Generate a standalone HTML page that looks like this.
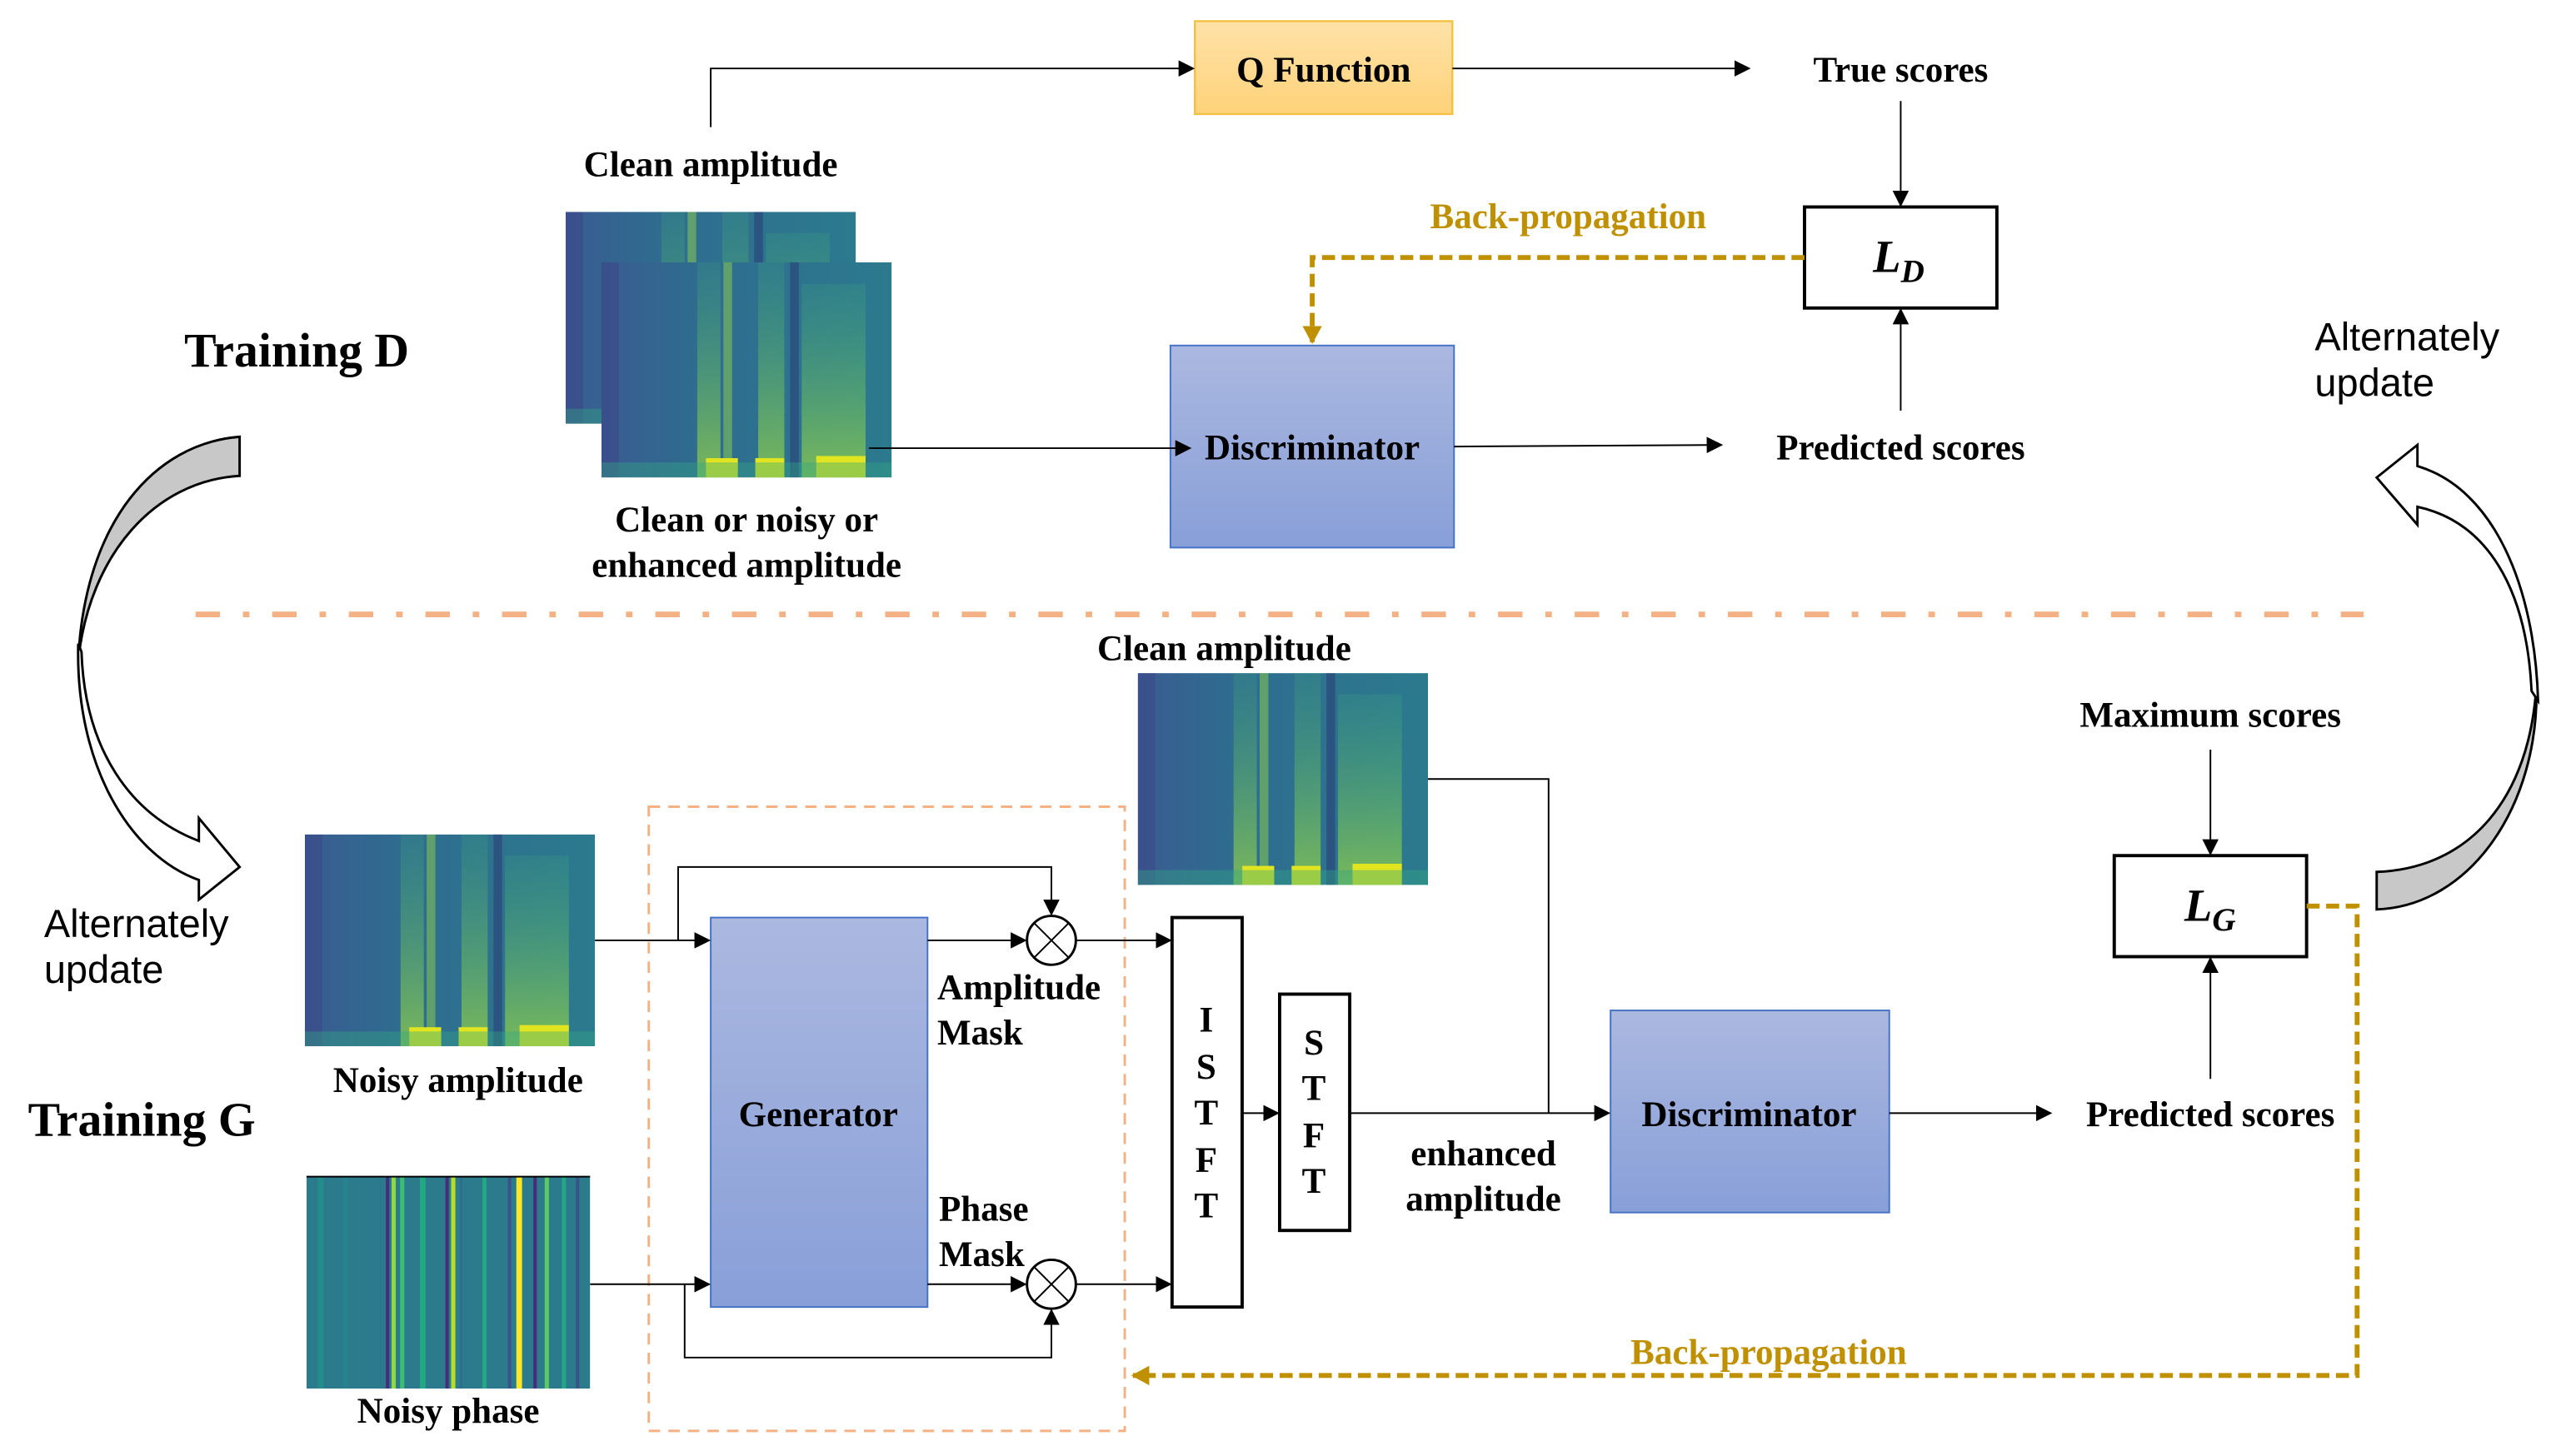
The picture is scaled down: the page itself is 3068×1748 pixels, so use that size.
<!DOCTYPE html>
<html><head><meta charset="utf-8"><style>
html,body{margin:0;padding:0;background:#fff;}
svg{display:block;}
text{font-family:"Liberation Serif",serif;font-weight:bold;fill:#000;}
.s{font-family:"Liberation Sans",sans-serif;font-weight:normal;}
</style></head><body>
<svg width="3068" height="1748" viewBox="0 0 1568 893.4" preserveAspectRatio="none" xmlns="http://www.w3.org/2000/svg">
<defs>
<marker id="a" markerWidth="10" markerHeight="10" refX="9" refY="5" orient="auto" markerUnits="userSpaceOnUse"><path d="M0,0 L10,5 L0,10 z" fill="#000"/></marker>
<marker id="g" markerWidth="12" markerHeight="12" refX="10" refY="6" orient="auto" markerUnits="userSpaceOnUse"><path d="M0,0 L11,6 L0,12 z" fill="#bf9000"/></marker>
<linearGradient id="bl" x1="0" y1="0" x2="0" y2="1"><stop offset="0" stop-color="#abb8e0"/><stop offset="1" stop-color="#889fd8"/></linearGradient>
<linearGradient id="qf" x1="0" y1="0" x2="0" y2="1"><stop offset="0" stop-color="#ffe2a8"/><stop offset="1" stop-color="#ffd27a"/></linearGradient>
<linearGradient id="sp" x1="0" y1="0" x2="1" y2="0"><stop offset="0" stop-color="#3a5c92"/><stop offset="0.3" stop-color="#2f6b8f"/><stop offset="1" stop-color="#2c7a8e"/></linearGradient>
<linearGradient id="vg" x1="0" y1="0" x2="0" y2="1"><stop offset="0" stop-color="#3fae7a" stop-opacity="0.2"/><stop offset="1" stop-color="#9bd843" stop-opacity="0.7"/></linearGradient>
<symbol id="spec" viewBox="0 0 100 100" preserveAspectRatio="none">
<rect width="100" height="100" fill="url(#sp)"/>
<rect x="0" y="0" width="6" height="100" fill="#3b3f85" opacity="0.4"/>
<rect x="33" y="0" width="8" height="100" fill="url(#vg)"/>
<rect x="42" y="0" width="3" height="100" fill="#8fd24a" opacity="0.5"/>
<rect x="54" y="0" width="9" height="100" fill="url(#vg)"/>
<rect x="65" y="0" width="3" height="100" fill="#2a3f78" opacity="0.6"/>
<rect x="69" y="10" width="22" height="90" fill="url(#vg)"/>
<rect x="36" y="91" width="11" height="9" fill="#e0e520"/>
<rect x="53" y="91" width="10" height="9" fill="#e0e520"/>
<rect x="74" y="90" width="17" height="10" fill="#e0e520"/>
<rect x="0" y="93" width="100" height="7" fill="#33a882" opacity="0.4"/>
</symbol>
<symbol id="phase" viewBox="0 0 100 100" preserveAspectRatio="none">
<rect width="100" height="100" fill="#2b7b8c"/>
<rect x="4" width="2" height="100" fill="#1f9a8a" opacity=".6"/>
<rect x="13" width="1.5" height="100" fill="#25858e"/>
<rect x="28" width="1.2" height="100" fill="#472d7b"/>
<rect x="30" width="1.5" height="100" fill="#8fd744"/>
<rect x="33" width="1.5" height="100" fill="#3dbc74"/>
<rect x="40" width="2" height="100" fill="#22a884"/>
<rect x="49" width="1.2" height="100" fill="#472d7b"/>
<rect x="51" width="1.5" height="100" fill="#b5de2b"/>
<rect x="54" width="1" height="100" fill="#2d6f8e"/>
<rect x="62" width="1.5" height="100" fill="#22a884"/>
<rect x="71" width="1.2" height="100" fill="#3b528b"/>
<rect x="74" width="2" height="100" fill="#fde725"/>
<rect x="80" width="1.2" height="100" fill="#472d7b"/>
<rect x="84" width="1.5" height="100" fill="#5ec962"/>
<rect x="90" width="1.5" height="100" fill="#22a884"/>
<rect x="95" width="1.2" height="100" fill="#3b528b"/>
</symbol>
</defs>

<!-- ===== Training D ===== -->
<rect x="733" y="13" width="158" height="57" fill="url(#qf)" stroke="#f4c040" stroke-width="1.2"/>
<text x="812" y="50" font-size="22" text-anchor="middle">Q Function</text>
<polyline points="436,78 436,42 732,42" fill="none" stroke="#000" stroke-width="1" marker-end="url(#a)"/>
<line x1="891" y1="42" x2="1073" y2="42" stroke="#000" stroke-width="1" marker-end="url(#a)"/>
<text x="1166" y="50" font-size="22" text-anchor="middle">True scores</text>
<line x1="1166" y1="62" x2="1166" y2="126" stroke="#000" stroke-width="1" marker-end="url(#a)"/>
<rect x="1107" y="127" width="118" height="62" fill="#fff" stroke="#000" stroke-width="2"/>
<text x="1149" y="167" font-size="28" font-style="italic">L<tspan font-size="20" dy="6">D</tspan></text>
<line x1="1166" y1="252" x2="1166" y2="190" stroke="#000" stroke-width="1" marker-end="url(#a)"/>
<text x="1166" y="282" font-size="22" text-anchor="middle">Predicted scores</text>
<text x="962" y="140" font-size="22" text-anchor="middle" style="fill:#bf9000">Back-propagation</text>
<polyline points="1107,158 805,158 805,210" fill="none" stroke="#bf9000" stroke-width="3" stroke-dasharray="8 4" marker-end="url(#g)"/>
<rect x="718" y="212" width="174" height="124" fill="url(#bl)" stroke="#4472c4" stroke-width="1"/>
<text x="805" y="282" font-size="22" text-anchor="middle">Discriminator</text>
<text x="436" y="108" font-size="22" text-anchor="middle">Clean amplitude</text>
<use href="#spec" x="347" y="130" width="178" height="130"/>
<use href="#spec" x="369" y="161" width="178" height="132"/>
<line x1="533" y1="275" x2="730" y2="275" stroke="#000" stroke-width="1" marker-end="url(#a)"/>
<line x1="892" y1="274" x2="1056" y2="273" stroke="#000" stroke-width="1" marker-end="url(#a)"/>
<text x="458" y="326" font-size="22" text-anchor="middle">Clean or noisy or</text>
<text x="458" y="354" font-size="22" text-anchor="middle">enhanced amplitude</text>
<text x="182" y="225" font-size="29.5" text-anchor="middle">Training D</text>
<text x="1420" y="215" font-size="24" class="s">Alternately</text>
<text x="1420" y="243" font-size="24" class="s">update</text>

<line x1="120" y1="377" x2="1450" y2="377" stroke="#f4b183" stroke-width="3.5" stroke-dasharray="15 14 4 14"/>

<!-- curved arrows -->
<path d="M147,268 L147,292 C95,295 55,340 48,405 C52,320 95,272 147,268 Z" fill="#c8c8c8" stroke="#000" stroke-width="1.5"/>
<path d="M48,395 C46,470 80,525 122,540 L122,552 L147,532 L122,502 L122,516 C80,500 52,460 50,400 Z" fill="#fff" stroke="#000" stroke-width="1.5"/>
<path d="M1458,535 C1515,533 1552,490 1556,420 C1558,495 1515,556 1458,558 Z" fill="#c8c8c8" stroke="#000" stroke-width="1.5"/>
<path d="M1557,430 C1555,360 1530,300 1483,286 L1483,273 L1458,293 L1483,322 L1483,311 C1525,320 1550,360 1553,424 Z" fill="#fff" stroke="#000" stroke-width="1.5"/>

<!-- ===== Training G ===== -->
<text x="751" y="405" font-size="22" text-anchor="middle">Clean amplitude</text>
<use href="#spec" x="698" y="413" width="178" height="130"/>
<polyline points="876,478 950,478 950,683" fill="none" stroke="#000" stroke-width="1"/>
<text x="1356" y="446" font-size="22" text-anchor="middle">Maximum scores</text>
<line x1="1356" y1="460" x2="1356" y2="524" stroke="#000" stroke-width="1" marker-end="url(#a)"/>
<rect x="1297" y="525" width="118" height="62" fill="#fff" stroke="#000" stroke-width="2"/>
<text x="1340" y="565" font-size="28" font-style="italic">L<tspan font-size="20" dy="6">G</tspan></text>
<line x1="1356" y1="662" x2="1356" y2="588" stroke="#000" stroke-width="1" marker-end="url(#a)"/>
<text x="1356" y="691" font-size="22" text-anchor="middle">Predicted scores</text>
<polyline points="1415,556 1446,556 1446,844 695,844" fill="none" stroke="#bf9000" stroke-width="3" stroke-dasharray="8 4" marker-end="url(#g)"/>
<text x="1085" y="837" font-size="22" text-anchor="middle" style="fill:#bf9000">Back-propagation</text>
<rect x="988" y="620" width="171" height="124" fill="url(#bl)" stroke="#4472c4" stroke-width="1"/>
<text x="1073" y="691" font-size="22" text-anchor="middle">Discriminator</text>
<line x1="1159" y1="683" x2="1258" y2="683" stroke="#000" stroke-width="1" marker-end="url(#a)"/>
<line x1="828" y1="683" x2="987" y2="683" stroke="#000" stroke-width="1" marker-end="url(#a)"/>
<text x="910" y="715" font-size="22" text-anchor="middle">enhanced</text>
<text x="910" y="743" font-size="22" text-anchor="middle">amplitude</text>

<rect x="785" y="610" width="43" height="145" fill="#fff" stroke="#000" stroke-width="2"/>
<text x="806" y="647" font-size="22" text-anchor="middle">S</text>
<text x="806" y="675" font-size="22" text-anchor="middle">T</text>
<text x="806" y="704" font-size="22" text-anchor="middle">F</text>
<text x="806" y="732" font-size="22" text-anchor="middle">T</text>
<rect x="719" y="563" width="43" height="239" fill="#fff" stroke="#000" stroke-width="2"/>
<text x="740" y="633" font-size="22" text-anchor="middle">I</text>
<text x="740" y="662" font-size="22" text-anchor="middle">S</text>
<text x="740" y="690" font-size="22" text-anchor="middle">T</text>
<text x="740" y="719" font-size="22" text-anchor="middle">F</text>
<text x="740" y="747" font-size="22" text-anchor="middle">T</text>
<line x1="762" y1="683" x2="784" y2="683" stroke="#000" stroke-width="1" marker-end="url(#a)"/>

<rect x="398" y="495" width="292" height="383" fill="none" stroke="#f4b183" stroke-width="1.5" stroke-dasharray="7 5"/>
<rect x="436" y="563" width="133" height="239" fill="url(#bl)" stroke="#4472c4" stroke-width="1"/>
<text x="502" y="691" font-size="22" text-anchor="middle">Generator</text>

<use href="#spec" x="187" y="512" width="178" height="130"/>
<text x="281" y="670" font-size="22" text-anchor="middle">Noisy amplitude</text>
<line x1="365" y1="577" x2="435" y2="577" stroke="#000" stroke-width="1" marker-end="url(#a)"/>
<polyline points="416,577 416,532 645,532 645,561" fill="none" stroke="#000" stroke-width="1" marker-end="url(#a)"/>
<line x1="569" y1="577" x2="629" y2="577" stroke="#000" stroke-width="1" marker-end="url(#a)"/>
<circle cx="645" cy="577" r="15" fill="#fff" stroke="#000" stroke-width="1.5"/>
<path d="M634.4,566.4 L655.6,587.6 M655.6,566.4 L634.4,587.6" stroke="#000" stroke-width="1"/>
<line x1="660" y1="577" x2="718" y2="577" stroke="#000" stroke-width="1" marker-end="url(#a)"/>
<text x="575" y="613" font-size="22">Amplitude</text>
<text x="575" y="641" font-size="22">Mask</text>

<use href="#phase" x="188" y="722" width="174" height="130"/>
<line x1="188" y1="722" x2="362" y2="722" stroke="#000" stroke-width="1"/>
<text x="275" y="873" font-size="22" text-anchor="middle">Noisy phase</text>
<line x1="362" y1="788" x2="435" y2="788" stroke="#000" stroke-width="1" marker-end="url(#a)"/>
<polyline points="420,788 420,833 645,833 645,804" fill="none" stroke="#000" stroke-width="1" marker-end="url(#a)"/>
<line x1="569" y1="788" x2="629" y2="788" stroke="#000" stroke-width="1" marker-end="url(#a)"/>
<circle cx="645" cy="788" r="15" fill="#fff" stroke="#000" stroke-width="1.5"/>
<path d="M634.4,777.4 L655.6,798.6 M655.6,777.4 L634.4,798.6" stroke="#000" stroke-width="1"/>
<line x1="660" y1="788" x2="718" y2="788" stroke="#000" stroke-width="1" marker-end="url(#a)"/>
<text x="576" y="749" font-size="22">Phase</text>
<text x="576" y="777" font-size="22">Mask</text>

<text x="87" y="697" font-size="29.5" text-anchor="middle">Training G</text>
<text x="27" y="575" font-size="24" class="s">Alternately</text>
<text x="27" y="603" font-size="24" class="s">update</text>
</svg>
</body></html>
